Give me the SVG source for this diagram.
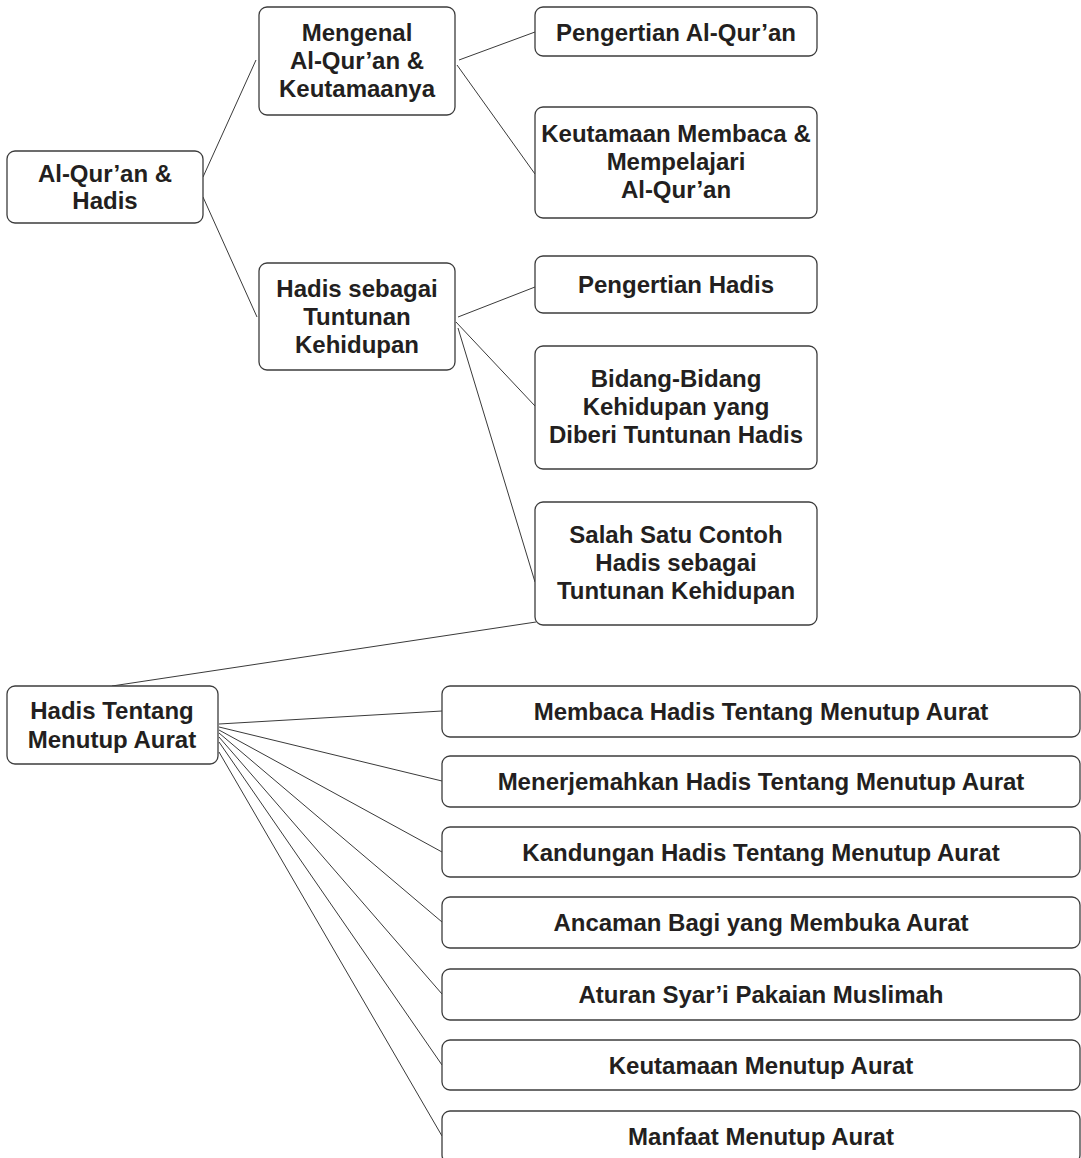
<svg xmlns="http://www.w3.org/2000/svg" width="1081" height="1158" viewBox="0 0 1081 1158">
<style>
  .box { fill: #ffffff; stroke: #3c3c3c; stroke-width: 1.3; }
  .t { font-family: "Liberation Sans", Arial, sans-serif; font-weight: bold; font-size: 24px; fill: #231f20; text-anchor: middle; }
  .edge { stroke: #3a3a3a; stroke-width: 1; fill: none; }
</style>
<rect width="1081" height="1158" fill="#ffffff"/>
<g id="connectors">
  <line class="edge" x1="203" y1="177" x2="256" y2="60"/>
  <line class="edge" x1="203" y1="197" x2="257" y2="317"/>
  <line class="edge" x1="459" y1="60" x2="535" y2="32"/>
  <line class="edge" x1="457" y1="65" x2="535" y2="174"/>
  <line class="edge" x1="458" y1="317" x2="535" y2="287"/>
  <line class="edge" x1="456" y1="322" x2="535" y2="406"/>
  <line class="edge" x1="458" y1="328" x2="535" y2="582"/>
  <line class="edge" x1="536" y1="622" x2="112" y2="686"/>
  <line class="edge" x1="219" y1="724" x2="442" y2="711"/>
  <line class="edge" x1="219" y1="727" x2="442" y2="781"/>
  <line class="edge" x1="219" y1="730" x2="442" y2="852"/>
  <line class="edge" x1="219" y1="733" x2="442" y2="922"/>
  <line class="edge" x1="219" y1="737" x2="442" y2="994"/>
  <line class="edge" x1="219" y1="742" x2="442" y2="1065"/>
  <line class="edge" x1="219" y1="752" x2="442" y2="1136"/>
</g>
<g id="n-root">
  <rect class="box" x="7" y="151" width="196" height="72" rx="8"/>
  <text class="t" x="105" y="182">Al-Qur’an &amp;</text>
  <text class="t" x="105" y="209">Hadis</text>
</g>
<g id="n-mengenal">
  <rect class="box" x="259" y="7" width="196" height="108" rx="8"/>
  <text class="t" x="357" y="41">Mengenal</text>
  <text class="t" x="357" y="69">Al-Qur’an &amp;</text>
  <text class="t" x="357" y="97">Keutamaanya</text>
</g>
<g id="n-hadis-tuntunan">
  <rect class="box" x="259" y="263" width="196" height="107" rx="8"/>
  <text class="t" x="357" y="297">Hadis sebagai</text>
  <text class="t" x="357" y="325">Tuntunan</text>
  <text class="t" x="357" y="353">Kehidupan</text>
</g>
<g id="n-pengertian-quran">
  <rect class="box" x="535" y="7" width="282" height="49" rx="8"/>
  <text class="t" x="676" y="41">Pengertian Al-Qur’an</text>
</g>
<g id="n-keutamaan-membaca">
  <rect class="box" x="535" y="107" width="282" height="111" rx="8"/>
  <text class="t" x="676" y="142">Keutamaan Membaca &amp;</text>
  <text class="t" x="676" y="170">Mempelajari</text>
  <text class="t" x="676" y="198">Al-Qur’an</text>
</g>
<g id="n-pengertian-hadis">
  <rect class="box" x="535" y="256" width="282" height="57" rx="8"/>
  <text class="t" x="676" y="293">Pengertian Hadis</text>
</g>
<g id="n-bidang">
  <rect class="box" x="535" y="346" width="282" height="123" rx="8"/>
  <text class="t" x="676" y="387">Bidang-Bidang</text>
  <text class="t" x="676" y="415">Kehidupan yang</text>
  <text class="t" x="676" y="443">Diberi Tuntunan Hadis</text>
</g>
<g id="n-salah-satu">
  <rect class="box" x="535" y="502" width="282" height="123" rx="8"/>
  <text class="t" x="676" y="543">Salah Satu Contoh</text>
  <text class="t" x="676" y="571">Hadis sebagai</text>
  <text class="t" x="676" y="599">Tuntunan Kehidupan</text>
</g>
<g id="n-menutup-aurat">
  <rect class="box" x="7" y="686" width="211" height="78" rx="8"/>
  <text class="t" x="112" y="719">Hadis Tentang</text>
  <text class="t" x="112" y="748">Menutup Aurat</text>
</g>
<g id="n-membaca">
  <rect class="box" x="442" y="686" width="638" height="51" rx="8"/>
  <text class="t" x="761" y="720">Membaca Hadis Tentang Menutup Aurat</text>
</g>
<g id="n-menerjemahkan">
  <rect class="box" x="442" y="756" width="638" height="51" rx="8"/>
  <text class="t" x="761" y="790">Menerjemahkan Hadis Tentang Menutup Aurat</text>
</g>
<g id="n-kandungan">
  <rect class="box" x="442" y="827" width="638" height="50" rx="8"/>
  <text class="t" x="761" y="861">Kandungan Hadis Tentang Menutup Aurat</text>
</g>
<g id="n-ancaman">
  <rect class="box" x="442" y="897" width="638" height="51" rx="8"/>
  <text class="t" x="761" y="931">Ancaman Bagi yang Membuka Aurat</text>
</g>
<g id="n-aturan">
  <rect class="box" x="442" y="969" width="638" height="51" rx="8"/>
  <text class="t" x="761" y="1003">Aturan Syar’i Pakaian Muslimah</text>
</g>
<g id="n-keutamaan-menutup">
  <rect class="box" x="442" y="1040" width="638" height="50" rx="8"/>
  <text class="t" x="761" y="1074">Keutamaan Menutup Aurat</text>
</g>
<g id="n-manfaat">
  <rect class="box" x="442" y="1111" width="638" height="52" rx="8"/>
  <text class="t" x="761" y="1145">Manfaat Menutup Aurat</text>
</g>
</svg>
